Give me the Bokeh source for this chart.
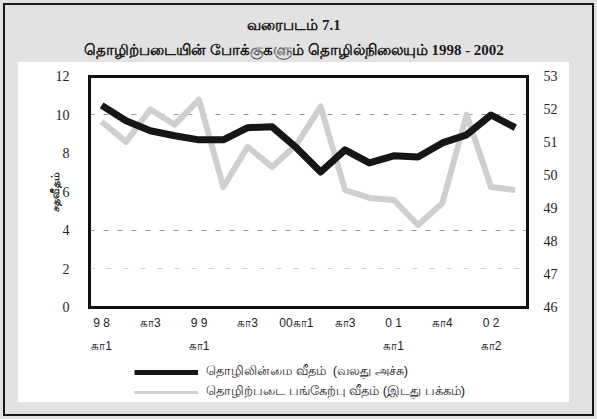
from bokeh.plotting import figure
from bokeh.models import (Range1d, LinearAxis, FixedTicker, Legend, LegendItem, Grid, Title)
from bokeh.embed import file_html
from bokeh.resources import INLINE

quarters = ["98Q1", "98Q2", "98Q3", "98Q4", "99Q1", "99Q2", "99Q3", "99Q4",
            "00Q1", "00Q2", "00Q3", "00Q4", "01Q1", "01Q3", "01Q4", "02Q1", "02Q2", "02Q3"]
tick_labels = {"98Q1": "9 8\nகா1", "98Q3": "கா3", "99Q1": "9 9\nகா1", "99Q3": "கா3",
               "00Q1": "00கா1", "00Q3": "கா3", "01Q1": "0 1\nகா1", "01Q4": "கா4",
               "02Q2": "0 2\nகா2"}
unemployment = [10.5, 9.7, 9.18, 8.92, 8.71, 8.71, 9.34, 9.39, 8.3, 7.04, 8.19, 7.51,
                7.88, 7.82, 8.55, 8.97, 10.0, 9.34]
participation = [51.63, 51.02, 52.0, 51.54, 52.3, 49.65, 50.87, 50.26, 50.93, 52.09, 49.56,
                 49.32, 49.26, 48.5, 49.16, 51.84, 49.65, 49.56]
left_ticks = [0, 2, 4, 6, 8, 10, 12]
right_ticks = [46, 47, 48, 49, 50, 51, 52, 53]

title_line1 = "வரைபடம் 7.1"
title_line2 = "தொழிற்படையின் போக்குகளும் தொழில்நிலையும் 1998 - 2002"
left_label = "சதவீதம்"
legend_black = "தொழிலின்மை வீதம்  (வலது அச்சு)"
legend_gray = "தொழிற்படை பங்கேற்பு வீதம் (இடது பக்கம்)"

SERIF = "Liberation Serif"
BLACK = "#161616"
GRAY = "#cfcfcf"
PANEL_GRAY = "#e2e2e2"
TXT = "#222222"

n = len(quarters)
xs = list(range(n))
L0, L1 = left_ticks[0], left_ticks[-1]
R0, R1 = right_ticks[0], right_ticks[-1]
X0, X1 = -0.5, n - 0.5

# page backdrop (styling only): grey card, white panel, and the chart-box frame lines
edge = "linear-gradient(#111111,#111111)"
backdrop = ", ".join([
    f"{edge} 88px 75px / 441px 3px no-repeat",
    f"{edge} 88px 306px / 441px 3px no-repeat",
    f"{edge} 88px 75px / 3px 234px no-repeat",
    f"{edge} 526px 75px / 3px 234px no-repeat",
    "linear-gradient(#ffffff,#ffffff) 18px 62px / 551px 340px no-repeat",
    PANEL_GRAY,
])

# the white panel is the plot frame; the chart box (x X0..X1, y L0..L1) sits inside it
y_lo, y_hi = -4.935, 12.727
p = figure(width=597, height=419, x_range=Range1d(-3.418, 19.226), y_range=Range1d(y_lo, y_hi),
           output_backend="svg", toolbar_location=None,
           min_border_left=18, min_border_right=28, min_border_top=62, min_border_bottom=17,
           background_fill_alpha=0, border_fill_alpha=0)
p.styles = {"outline": "2px solid #1a1a1a", "outline-offset": "-5px", "background": backdrop}
p.outline_line_color = None
k = (R1 - R0) / (L1 - L0)
p.extra_y_ranges = {"right": Range1d(R0 + (y_lo - L0) * k, R0 + (y_hi - L0) * k)}

# titles (first added sits closest to the frame)
t2 = Title(text=title_line2, align="center", text_font=SERIF, text_font_size="15px",
           text_font_style="bold", text_color="#1a1a1a", standoff=9, offset=18)
t1 = Title(text=title_line1, align="center", text_font=SERIF, text_font_size="15px",
           text_font_style="bold", text_color="#1a1a1a", standoff=5, offset=10)
p.add_layout(t2, "above")
p.add_layout(t1, "above")

# grids limited to the chart box
p.xgrid.visible = False
p.ygrid.ticker = FixedTicker(ticks=[4, 10])
p.ygrid.cross_bounds = (X0, X1)
p.ygrid.grid_line_color = "#9a9a9a"
p.ygrid.grid_line_dash = "5 9"
p.ygrid.grid_line_width = 1
g2 = Grid(dimension=1, ticker=FixedTicker(ticks=[2]), cross_bounds=(X0, X1),
          grid_line_color="#d0d0d0", grid_line_dash="5 12", grid_line_width=1)
p.add_layout(g2, "center")

# left axis at the chart box's left edge
la = p.yaxis[0]
la.fixed_location = X0
la.bounds = (L0, L1)
la.ticker = FixedTicker(ticks=left_ticks)
la.axis_line_color = None
la.major_tick_line_color = None
la.minor_tick_line_color = None
la.major_label_text_font = SERIF
la.major_label_text_font_size = "14px"
la.major_label_text_color = TXT
la.major_label_standoff = 14
la.axis_label = left_label
la.axis_label_text_font_size = "11px"
la.axis_label_text_font_style = "bold"
la.axis_label_text_color = TXT
la.axis_label_standoff = -8

# right axis at the chart box's right edge
ra = LinearAxis(y_range_name="right", ticker=FixedTicker(ticks=right_ticks),
                fixed_location=X1, bounds=(R0, R1))
ra.axis_line_color = None
ra.major_tick_line_color = None
ra.minor_tick_line_color = None
ra.major_label_text_font = SERIF
ra.major_label_text_font_size = "14px"
ra.major_label_text_color = TXT
ra.major_label_standoff = 10
p.add_layout(ra, "right")

# x axis at the chart box's bottom edge
xa = p.xaxis[0]
xa.fixed_location = L0
xa.bounds = (X0, X1)
xa.ticker = FixedTicker(ticks=xs)
xa.axis_line_color = None
xa.major_tick_line_color = None
xa.minor_tick_line_color = None
xa.major_label_overrides = {i: tick_labels.get(q, "") for i, q in enumerate(quarters)}
xa.major_label_text_font_size = "12px"
xa.major_label_text_line_height = 1.6
xa.major_label_text_color = TXT
xa.major_label_standoff = 3

p.line(xs, participation, y_range_name="right", line_color=GRAY,
       line_width=6, line_join="round")
p.line(xs, unemployment, line_color=BLACK, line_width=7, line_join="round")

# chart box outline (closed path along the box edges)
p.line([X0, X1, X1, X0, X0], [L0, L0, L1, L1, L0], line_color="#111111",
       line_width=2.5, line_join="miter")

# legend (proxy renderers carry the legend line styles)
nan = float("nan")
lb = p.line([0, 1], [nan, nan], line_color=BLACK, line_width=5)
lgr = p.line([0, 1], [nan, nan], line_color=GRAY, line_width=3)
legend = Legend(items=[LegendItem(label=legend_black, renderers=[lb]),
                       LegendItem(label=legend_gray, renderers=[lgr])],
                location=(116, 2), orientation="vertical",
                glyph_width=64, glyph_height=12, label_height=12, spacing=3,
                padding=0, margin=0, label_standoff=8,
                label_text_font_size="13px", label_text_color=TXT,
                border_line_alpha=0, background_fill_alpha=0)
p.add_layout(legend, "center")

open("out.html", "w").write(file_html(p, INLINE))
